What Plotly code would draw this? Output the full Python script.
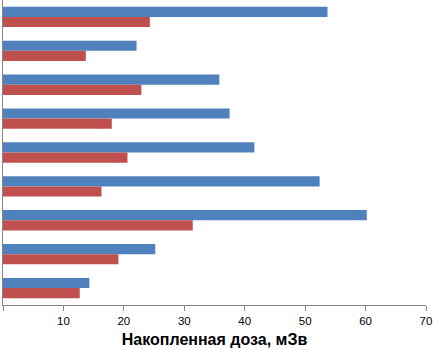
import plotly.graph_objects as go

categories = ["1", "2", "3", "4", "5", "6", "7", "8", "9"]
blue_values = [53.7, 22.1, 35.8, 37.5, 41.6, 52.4, 60.2, 25.2, 14.3]
red_values = [24.3, 13.7, 22.9, 18.0, 20.6, 16.3, 31.4, 19.1, 12.7]
x_ticks = [0, 10, 20, 30, 40, 50, 60, 70]

fig = go.Figure()
fig.add_trace(go.Bar(y=categories, x=blue_values, orientation="h",
                     marker=dict(color="#4F81BD", line=dict(width=0)), name="A"))
fig.add_trace(go.Bar(y=categories, x=red_values, orientation="h",
                     marker=dict(color="#C0504D", line=dict(width=0)), name="B"))

fig.update_layout(
    width=433, height=350,
    margin=dict(l=3, r=7, t=0, b=45),
    barmode="group", bargap=0.40, bargroupgap=0,
    plot_bgcolor="white", paper_bgcolor="white",
    showlegend=False,
    font=dict(family="Arial, Liberation Sans, sans-serif", color="black"),
    xaxis=dict(range=[0, 70], tickvals=x_ticks, showgrid=False, zeroline=False,
               showline=True, linecolor="#868686", linewidth=1,
               ticks="outside", ticklen=5, tickcolor="#868686",
               tickfont=dict(size=11.5), automargin=False,
               title=dict(text="<b>Накопленная доза, мЗв</b>", font=dict(size=16), standoff=8)),
    yaxis=dict(autorange="reversed", showticklabels=False, showgrid=False,
               zeroline=False, showline=True, linecolor="#868686", linewidth=1,
               ticks="", automargin=False),
)

fig.write_html("out.html", config={"displayModeBar": False},
               post_script="document.body.style.margin='0';document.body.style.overflow='hidden';")
